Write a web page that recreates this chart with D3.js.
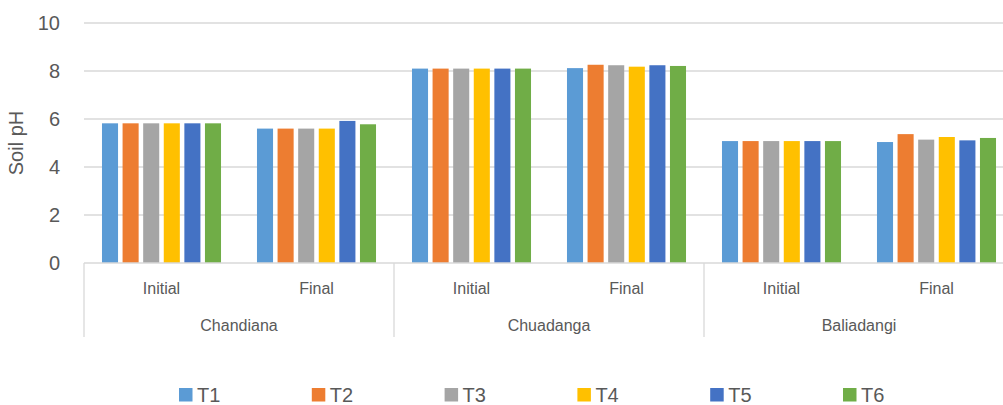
<!DOCTYPE html>
<html>
<head>
<meta charset="utf-8">
<script src="https://cdn.jsdelivr.net/npm/d3@7"></script>
<style>
  html, body { margin: 0; padding: 0; background: #fff; }
  svg { display: block; }
  text { font-family: "Liberation Sans", Arial, sans-serif; fill: #595959; }
</style>
</head>
<body>
<svg id="chart" width="1003" height="405"></svg>
<script>
// ---- data ----
const sites = ["Chandiana", "Chuadanga", "Baliadangi"];
const stages = ["Initial", "Final"];
const seriesNames = ["T1", "T2", "T3", "T4", "T5", "T6"];
const seriesColors = ["#5B9BD5", "#ED7D31", "#A5A5A5", "#FFC000", "#4472C4", "#70AD47"];
// values per series in order: Chandiana Initial, Chandiana Final, Chuadanga Initial, Chuadanga Final, Baliadangi Initial, Baliadangi Final
const T1 = [5.82, 5.60, 8.10, 8.12, 5.08, 5.04];
const T2 = [5.82, 5.60, 8.10, 8.26, 5.08, 5.37];
const T3 = [5.82, 5.60, 8.10, 8.24, 5.08, 5.14];
const T4 = [5.82, 5.60, 8.10, 8.18, 5.08, 5.25];
const T5 = [5.82, 5.92, 8.10, 8.24, 5.08, 5.11];
const T6 = [5.82, 5.78, 8.10, 8.21, 5.08, 5.21];
const yTicks = [0, 2, 4, 6, 8, 10];
const yTitle = "Soil pH";

const seriesValues = [T1, T2, T3, T4, T5, T6];
const categories = [];
sites.forEach(s => stages.forEach(st => categories.push({ site: s, stage: st, key: s + "|" + st })));

// ---- layout ----
const svg = d3.select("#chart");
const plotLeft = 84, plotRight = 1014, plotTop = 23, plotBottom = 263;

const x0 = d3.scaleBand().domain(categories.map(c => c.key)).range([plotLeft, plotRight]).padding(0);
const xSite = d3.scaleBand().domain(sites).range([plotLeft, plotRight]).padding(0);
const cw = x0.bandwidth();
const outer = cw * 0.116;
const x1 = d3.scaleBand().domain(seriesNames).range([outer, cw - outer]).paddingInner(0.22).paddingOuter(0);
const y = d3.scaleLinear().domain([0, 10]).range([plotBottom, plotTop]);

// gridlines
svg.append("g").selectAll("line").data(yTicks.filter(t => t > 0)).join("line")
  .attr("x1", plotLeft).attr("x2", plotRight)
  .attr("y1", d => y(d)).attr("y2", d => y(d))
  .attr("stroke", "#D9D9D9").attr("stroke-width", 1.3);

// y axis labels
const yAxis = d3.axisLeft(y).tickValues(yTicks).tickSize(0).tickPadding(0).tickFormat(d3.format("d"));
const ya = svg.append("g").attr("transform", `translate(${plotLeft - 24},0)`).call(yAxis);
ya.select(".domain").remove();
ya.selectAll("text").attr("font-size", 20).attr("fill", "#595959")
  .style("font-family", '"Liberation Sans", Arial, sans-serif');

// y title
svg.append("text").attr("transform", `translate(23,${(plotTop + plotBottom) / 2}) rotate(-90)`)
  .attr("text-anchor", "middle").attr("font-size", 20).text(yTitle);

// bars
const gCats = svg.append("g").selectAll("g").data(categories).join("g")
  .attr("transform", d => `translate(${x0(d.key)},0)`);
gCats.selectAll("rect").data((d, i) => seriesNames.map((s, j) => ({ s, j, v: seriesValues[j][i] })))
  .join("rect")
  .attr("x", d => x1(d.s)).attr("width", x1.bandwidth())
  .attr("y", d => y(d.v)).attr("height", d => y(0) - y(d.v))
  .attr("fill", d => seriesColors[d.j]);

// x axis baseline
svg.append("line").attr("x1", plotLeft).attr("x2", plotRight)
  .attr("y1", plotBottom).attr("y2", plotBottom)
  .attr("stroke", "#D9D9D9").attr("stroke-width", 1.3);

// separators
const sepX = sites.map(s => xSite(s)).concat([plotRight]);
svg.append("g").selectAll("line").data(sepX).join("line")
  .attr("x1", d => d).attr("x2", d => d)
  .attr("y1", plotBottom).attr("y2", 337)
  .attr("stroke", "#D9D9D9").attr("stroke-width", 1.3);

// category labels
svg.append("g").selectAll("text").data(categories).join("text")
  .attr("x", d => x0(d.key) + cw / 2).attr("y", 294)
  .attr("text-anchor", "middle").attr("font-size", 16).text(d => d.stage);

// site labels
svg.append("g").selectAll("text").data(sites).join("text")
  .attr("x", d => xSite(d) + xSite.bandwidth() / 2).attr("y", 331)
  .attr("text-anchor", "middle").attr("font-size", 16).text(d => d);

// legend
const legX = d3.scalePoint().domain(seriesNames).range([179, 843]);
const leg = svg.append("g").selectAll("g").data(seriesNames).join("g")
  .attr("transform", d => `translate(${legX(d)},388)`);
leg.append("rect").attr("width", 13.5).attr("height", 13.5).attr("fill", (d, i) => seriesColors[i]);
leg.append("text").attr("x", 18).attr("y", 13.5).attr("font-size", 20).text(d => d);
</script>
</body>
</html>
